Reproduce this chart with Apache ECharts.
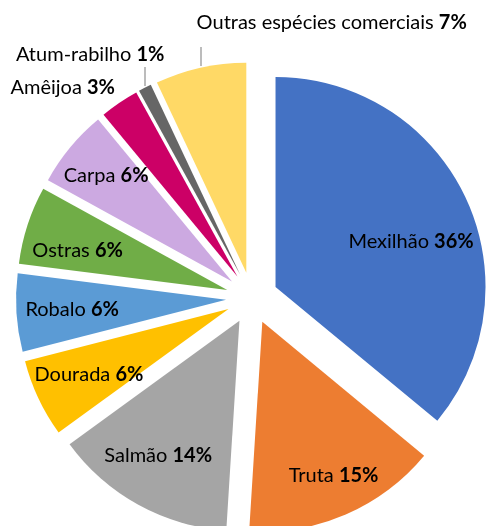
<!DOCTYPE html>
<html><head><meta charset="utf-8">
<script src="https://cdn.jsdelivr.net/npm/echarts@6/dist/echarts.min.js"></script>
<style>html,body{margin:0;padding:0;background:#fff}#c{width:486px;height:526px}</style>
</head><body><div id="c"></div>
<script>
const categories = ['Mexilhão','Truta','Salmão','Dourada','Robalo','Ostras','Carpa','Amêijoa','Atum-rabilho','Outras espécies comerciais'];
const shares = [36,15,14,6,6,6,6,3,1,7];
const colors = ['#4472C4','#ED7D31','#A5A5A5','#FFC000','#5B9BD5','#70AD47','#CCA9E1','#CC0066','#666666','#FFD966'];

const CX = 252, CY = 298, R = 210, OFF = 26;
// label nudges relative to the library's default inside label position
const labelNudge = {
  'Mexilhão':[-4,20], 'Truta':[10,12], 'Carpa':[-7,-8], 'Ostras':[-3,8], 'Salmão':[-7,0],
  'Outras espécies comerciais':[119,-100], 'Atum-rabilho':[-80,-83], 'Amêijoa':[-88,-61]
};
const leaderLines = [[[201,66],[201,47]], [[145,86],[145,67]]];

const chart = echarts.init(document.getElementById('c'), null, {renderer:'canvas'});
const mainData = categories.map((n,i)=>({name:n, value:shares[i], selected:true, itemStyle:{color:colors[i]}}));
const labelData = categories.map((n,i)=>({name:n, value:shares[i], selected:true}));
const font = 'Lato, "Open Sans", sans-serif';
const FS = 20;
chart.setOption({
  animation:false,
  backgroundColor:'#fff',
  graphic: leaderLines.map(l=>({type:'line', silent:true,
    shape:{x1:l[0][0], y1:l[0][1], x2:l[1][0], y2:l[1][1]},
    style:{stroke:'#A6A6A6', lineWidth:1.5}})),
  series:[
    {
      type:'pie', center:[CX,CY], radius:R, startAngle:90, clockwise:true,
      selectedMode:'multiple', selectedOffset:OFF, silent:true,
      emphasis:{disabled:true},
      label:{show:false}, labelLine:{show:false},
      itemStyle:{borderWidth:0},
      data: mainData
    },
    {
      type:'pie', center:[CX,CY], radius:R*1.44, startAngle:90, clockwise:true,
      selectedMode:'multiple', selectedOffset:OFF, silent:true,
      emphasis:{disabled:true},
      itemStyle:{color:'rgba(0,0,0,0)', borderWidth:0},
      select:{itemStyle:{color:'rgba(0,0,0,0)'}},
      label:{show:true, position:'inside', color:'#000', fontFamily:font, fontSize:FS, overflow:'none',
        formatter: p => '{n|' + p.name + '} {b|' + p.value + '%}',
        rich:{n:{fontFamily:font,fontSize:FS,color:'#000'}, b:{fontFamily:font,fontSize:FS,fontWeight:'bold',color:'#000'}}},
      labelLine:{show:false},
      labelLayout: function(params){
        const nd = labelNudge[categories[params.dataIndex]];
        return nd ? {dx:nd[0], dy:nd[1]} : {};
      },
      data: labelData
    }
  ]
});
</script></body></html>
